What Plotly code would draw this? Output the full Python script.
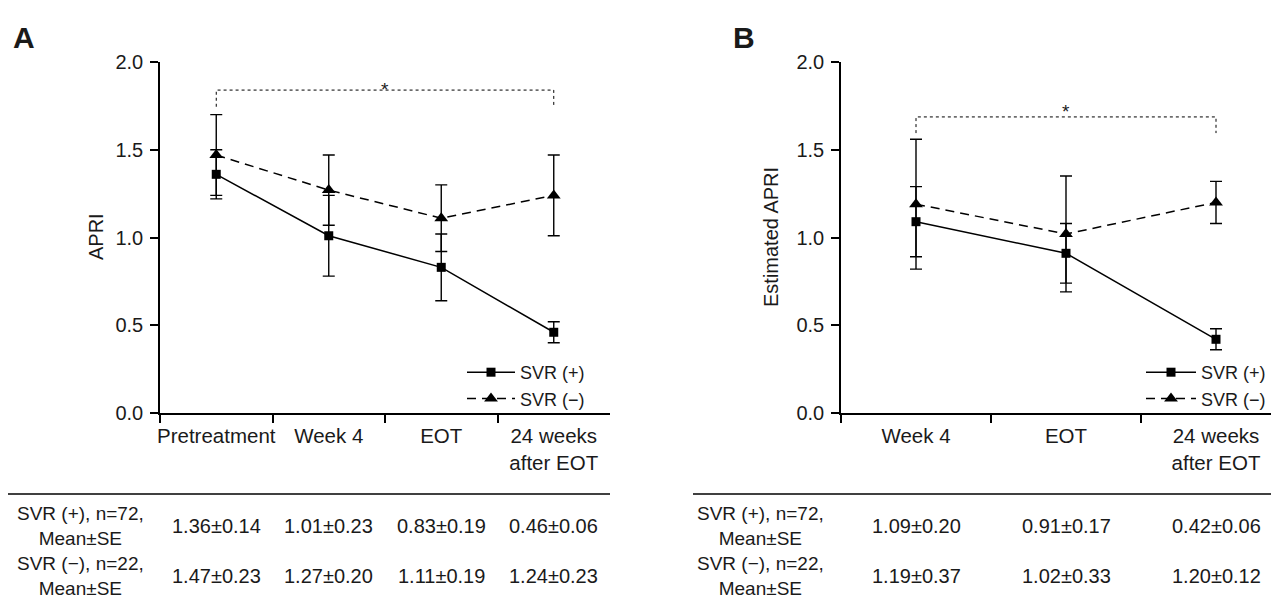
import plotly.graph_objects as go

# ---------------- data ----------------
cats_a = ["Pretreatment", "Week 4", "EOT", "24 weeks<br>after EOT"]
svr_pos_a = [1.36, 1.01, 0.83, 0.46]
svr_pos_a_se = [0.14, 0.23, 0.19, 0.06]
svr_neg_a = [1.47, 1.27, 1.11, 1.24]
svr_neg_a_se = [0.23, 0.20, 0.19, 0.23]

cats_b = ["Week 4", "EOT", "24 weeks<br>after EOT"]
svr_pos_b = [1.09, 0.91, 0.42]
svr_pos_b_se = [0.20, 0.17, 0.06]
svr_neg_b = [1.19, 1.02, 1.20]
svr_neg_b_se = [0.37, 0.33, 0.12]

series_names = ["SVR (+)", "SVR (−)"]
row_labels = ["SVR (+), n=72,<br>Mean±SE", "SVR (−), n=22,<br>Mean±SE"]

bracket_a = (1.745, 1.84)   # (leg bottom, top) in APRI units
bracket_b = (1.595, 1.687)

# ---------------- layout helpers ----------------
OX, OY = 8, 8                 # page body margin
W, H = 1279 - OX, 600 - OY
FONT = "Liberation Sans, Arial, Helvetica, sans-serif"
TXT = "#1a1a1a"
def px(x):
    return (x - OX) / W
def py(y):
    return 1 - (y - OY) / H

fig = go.Figure()

def add_panel(cats, pos, pos_se, neg, neg_se, xa, ya, leg):
    fig.add_trace(go.Scatter(
        x=cats, y=pos, name=series_names[0], mode="lines+markers",
        line=dict(color="black", width=1.5),
        marker=dict(symbol="square", size=9, color="black"),
        error_y=dict(type="data", array=pos_se, visible=True, color="black",
                     thickness=1.4, width=6),
        xaxis=xa, yaxis=ya, legend=leg))
    fig.add_trace(go.Scatter(
        x=cats, y=neg, name=series_names[1], mode="lines+markers",
        line=dict(color="black", width=1.5, dash="9px,6px"),
        marker=dict(symbol="triangle-up", size=12, color="black"),
        error_y=dict(type="data", array=neg_se, visible=True, color="black",
                     thickness=1.4, width=6),
        xaxis=xa, yaxis=ya, legend=leg))

add_panel(cats_a, svr_pos_a, svr_pos_a_se, svr_neg_a, svr_neg_a_se, "x", "y", "legend")
add_panel(cats_b, svr_pos_b, svr_pos_b_se, svr_neg_b, svr_neg_b_se, "x2", "y2", "legend2")

# significance brackets
def bracket(cats, lo, hi, xa, ya):
    fig.add_trace(go.Scatter(
        x=[cats[0], cats[0], cats[-1], cats[-1]], y=[lo, hi, hi, lo],
        mode="lines", line=dict(color="black", width=1, dash="dot"),
        showlegend=False, hoverinfo="skip", xaxis=xa, yaxis=ya))

bracket(cats_a, bracket_a[0], bracket_a[1], "x", "y")
bracket(cats_b, bracket_b[0], bracket_b[1], "x2", "y2")

axis_common = dict(showline=True, linecolor="black", linewidth=1.5,
                   ticks="outside", tickcolor="black", tickwidth=1.5,
                   showgrid=False, zeroline=False, automargin=False)
xfont = dict(family=FONT, size=20.5, color=TXT)
yfont = dict(family=FONT, size=20, color=TXT)

ydom = [py(413), py(62)]
fig.update_layout(
    width=W, height=H,
    margin=dict(l=0, r=0, t=0, b=0, autoexpand=False),
    paper_bgcolor="white", plot_bgcolor="white",
    font=dict(family=FONT, size=20, color=TXT),
    xaxis=dict(domain=[px(160), px(610)], type="category", range=[-0.5, 3.5],
               tickson="boundaries", ticklen=8, tickangle=0, ticklabelstandoff=4,
               tickfont=xfont, anchor="y", **axis_common),
    yaxis=dict(domain=ydom, range=[0, 2.0], dtick=0.5, tickformat=".1f",
               ticklen=8, ticklabelstandoff=3, tickfont=yfont, anchor="x", **axis_common),
    xaxis2=dict(domain=[px(841), 1.0], type="category", range=[-0.5, -0.5 + (1279 - 841) / 150],
                tickson="boundaries", ticklen=8, tickangle=0, ticklabelstandoff=4,
                tickfont=xfont, anchor="y2", **axis_common),
    yaxis2=dict(domain=ydom, range=[0, 2.0], dtick=0.5, tickformat=".1f",
                ticklen=8, ticklabelstandoff=3, tickfont=yfont, anchor="x2", **axis_common),
    legend=dict(x=px(462), y=py(354), xanchor="left", yanchor="top",
                bgcolor="rgba(0,0,0,0)", font=dict(family=FONT, size=18, color=TXT),
                itemwidth=48, tracegroupgap=0),
    legend2=dict(x=px(1141), y=py(354), xanchor="left", yanchor="top",
                 bgcolor="rgba(0,0,0,0)", font=dict(family=FONT, size=18, color=TXT),
                 itemwidth=50, tracegroupgap=0),
    showlegend=True,
)

ann = []
def txt(text, x, y, size, xref="paper", angle=0):
    ann.append(dict(text=text, x=x, y=y, xref=xref, yref="paper", textangle=angle,
                    xanchor="center", yanchor="middle", showarrow=False,
                    font=dict(family=FONT, size=size, color=TXT)))

# panel letters
txt("<b>A</b>", px(24), py(37), 30)
txt("<b>B</b>", px(744), py(37), 30)
# y titles
txt("APRI", px(96), py(237), 20, angle=-90)
txt("Estimated APRI", px(771), py(237), 20, angle=-90)
# stars
txt("*", 1.5, py(89), 19, xref="x")
txt("*", 1.0, py(112), 19, xref="x2")

# tables
def table(xref, label_x, pos, pos_se, neg, neg_se):
    rows = [(pos, pos_se), (neg, neg_se)]
    for r, (m, s) in enumerate(rows):
        yc = 526 + 50 * r
        txt(row_labels[r], px(label_x), py(yc), 19)
        for i, (mv, sv) in enumerate(zip(m, s)):
            txt(f"{mv:.2f}±{sv:.2f}", i, py(yc), 20, xref=xref)

table("x", 80, svr_pos_a, svr_pos_a_se, svr_neg_a, svr_neg_a_se)
table("x2", 760, svr_pos_b, svr_pos_b_se, svr_neg_b, svr_neg_b_se)

fig.update_layout(annotations=ann)

fig.add_shape(type="line", xref="paper", yref="paper", x0=0, x1=px(610), y0=py(494), y1=py(494),
              line=dict(color="black", width=1.5))
fig.add_shape(type="line", xref="paper", yref="paper", x0=px(693), x1=1.0, y0=py(494), y1=py(494),
              line=dict(color="black", width=1.5))

fig.write_html("out.html")
